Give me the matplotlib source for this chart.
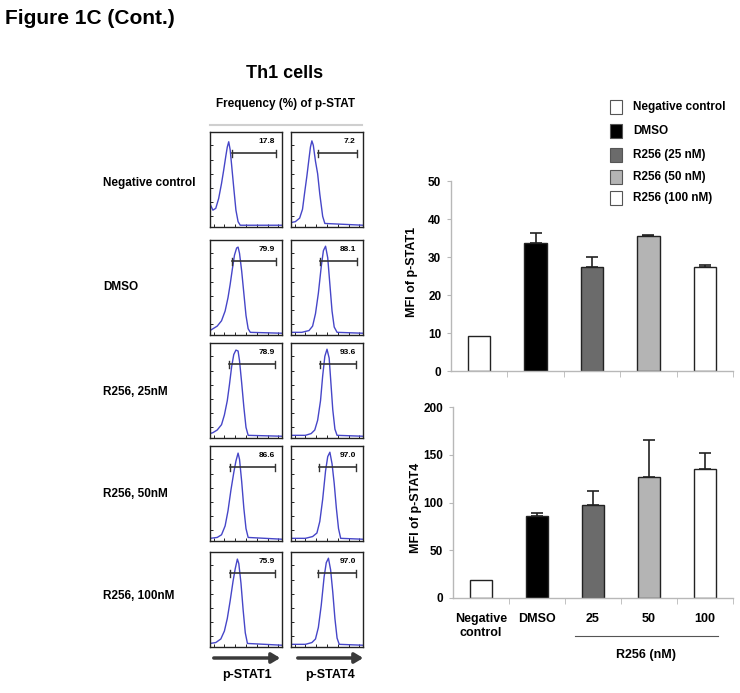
import numpy as np
import matplotlib
matplotlib.use('Agg')
import matplotlib.pyplot as plt

plt.rcParams['font.family'] = ['Liberation Sans Narrow', 'Liberation Sans', 'DejaVu Sans']
plt.rcParams['font.weight'] = 'bold'

W, H = 740, 693

# bar chart data
groups = ['Negative control', 'DMSO', 'R256 (25 nM)', 'R256 (50 nM)', 'R256 (100 nM)']
bar_colors = ['white', 'black', '#6b6b6b', '#b4b4b4', 'white']
stat1_mfi = [9.2, 33.8, 27.4, 35.6, 27.3]
stat1_err = [0.0, 2.4, 2.5, 0.3, 0.7]
stat4_mfi = [18.5, 86, 97, 127, 135]
stat4_err = [0.0, 2.5, 15, 38, 17]
xlabels4 = ['Negative\ncontrol', 'DMSO', '25', '50', '100']

# flow histograms (x, y, relative 0-1)
row_labels = ['Negative control', 'DMSO', 'R256, 25nM', 'R256, 50nM', 'R256, 100nM']
row_label_y = [183, 287, 392, 494, 596]
freq_stat1 = ['17.8', '79.9', '78.9', '86.6', '75.9']
freq_stat4 = ['7.2', '88.1', '93.6', '97.0', '97.0']
gate_stat1 = [(0.30, 0.92), (0.31, 0.91), (0.27, 0.90), (0.28, 0.90), (0.28, 0.90)]
gate_stat4 = [(0.38, 0.91), (0.40, 0.91), (0.40, 0.90), (0.39, 0.90), (0.37, 0.90)]
hist_stat1 = [
    ([0, 0.04, 0.08, 0.12, 0.16, 0.19, 0.22, 0.24, 0.26, 0.28, 0.30, 0.33, 0.36, 0.39, 0.42, 1.0],
     [0.24, 0.17, 0.19, 0.3, 0.47, 0.62, 0.78, 0.88, 0.94, 0.85, 0.68, 0.42, 0.17, 0.04, 0.0, 0.0]),
    ([0, 0.04, 0.1, 0.16, 0.21, 0.25, 0.28, 0.31, 0.34, 0.37, 0.39, 0.41, 0.44, 0.47, 0.5, 0.53, 0.56, 1.0],
     [0.03, 0.05, 0.08, 0.14, 0.25, 0.4, 0.55, 0.72, 0.88, 0.96, 0.97, 0.9, 0.7, 0.45, 0.2, 0.05, 0.01, 0.0]),
    ([0, 0.04, 0.1, 0.16, 0.2, 0.24, 0.27, 0.3, 0.33, 0.36, 0.39, 0.41, 0.44, 0.47, 0.5, 0.53, 1.0],
     [0.03, 0.04, 0.07, 0.13, 0.24, 0.4, 0.58, 0.78, 0.92, 0.97, 0.96, 0.85, 0.6, 0.33, 0.1, 0.01, 0.0]),
    ([0, 0.1, 0.16, 0.21, 0.25, 0.29, 0.33, 0.36, 0.39, 0.41, 0.44, 0.47, 0.5, 0.53, 1.0],
     [0.01, 0.02, 0.05, 0.15, 0.32, 0.55, 0.75, 0.88, 0.97, 0.9, 0.65, 0.35, 0.12, 0.02, 0.0]),
    ([0, 0.08, 0.15, 0.2, 0.24, 0.28, 0.32, 0.35, 0.38, 0.40, 0.43, 0.46, 0.49, 0.52, 1.0],
     [0.02, 0.03, 0.07, 0.16, 0.3, 0.5, 0.72, 0.86, 0.97, 0.92, 0.7, 0.4, 0.14, 0.02, 0.0]),
]
hist_stat4 = [
    ([0, 0.06, 0.12, 0.16, 0.19, 0.22, 0.25, 0.27, 0.29, 0.31, 0.34, 0.37, 0.40, 0.44, 0.47, 1.0],
     [0.03, 0.04, 0.08, 0.18, 0.37, 0.55, 0.75, 0.88, 0.95, 0.9, 0.72, 0.58, 0.35, 0.1, 0.02, 0.0]),
    ([0, 0.15, 0.25, 0.3, 0.34, 0.38, 0.42, 0.45, 0.48, 0.51, 0.54, 0.57, 0.6, 0.64, 1.0],
     [0.01, 0.01, 0.03, 0.08, 0.22, 0.45, 0.75, 0.93, 0.98, 0.85, 0.55, 0.25, 0.07, 0.01, 0.0]),
    ([0, 0.2, 0.28, 0.33, 0.37, 0.41, 0.44, 0.47, 0.5, 0.53, 0.55, 0.58, 0.61, 0.64, 1.0],
     [0.01, 0.01, 0.03, 0.07, 0.18, 0.4, 0.68, 0.9, 0.98, 0.88, 0.65, 0.3, 0.08, 0.01, 0.0]),
    ([0, 0.2, 0.3, 0.36, 0.4, 0.44, 0.48, 0.51, 0.54, 0.57, 0.6, 0.63, 0.66, 0.69, 1.0],
     [0.01, 0.01, 0.03, 0.07, 0.2, 0.45, 0.77, 0.93, 0.98, 0.85, 0.63, 0.35, 0.12, 0.01, 0.0]),
    ([0, 0.2, 0.29, 0.34, 0.38, 0.42, 0.46, 0.49, 0.52, 0.55, 0.58, 0.61, 0.64, 0.67, 1.0],
     [0.01, 0.01, 0.03, 0.07, 0.2, 0.45, 0.77, 0.93, 0.98, 0.85, 0.6, 0.3, 0.08, 0.01, 0.0]),
]


def px(x0, y0, x1, y1):
    return [x0 / W, 1 - y1 / H, (x1 - x0) / W, (y1 - y0) / H]


fig = plt.figure(figsize=(W / 100, H / 100), dpi=100)

fig.text(5 / W, 1 - 18 / H, 'Figure 1C (Cont.)', fontsize=15, fontweight='bold', va='center')
fig.text(285 / W, 1 - 74 / H, 'Th1 cells', fontsize=13, fontweight='bold', ha='center', va='center')
fig.text(286 / W, 1 - 104 / H, 'Frequency (%) of p-STAT', fontsize=8.5, fontweight='bold', ha='center', va='center')
fig.add_artist(plt.Line2D([210 / W, 362 / W], [1 - 125 / H, 1 - 125 / H], color='#cfcfcf', lw=1.5))

row_tops = [132, 240, 343, 446, 552]
row_h = 95
for i in range(5):
    y0 = row_tops[i]
    fig.text(103 / W, 1 - row_label_y[i] / H, row_labels[i], fontsize=8.5, fontweight='bold', va='center')
    for col, (xa, xb, hists, freqs, gates) in enumerate([(210, 282, hist_stat1, freq_stat1, gate_stat1),
                                                         (291, 363, hist_stat4, freq_stat4, gate_stat4)]):
        ax = fig.add_axes(px(xa, y0, xb, y0 + row_h))
        hx, hy = hists[i]
        ax.plot(hx, hy, color='#4646c8', lw=1.0)
        ax.set_xlim(0, 1)
        ax.set_ylim(-0.02, 1.05)
        g0, g1 = gates[i]
        gy = 0.81
        ax.plot([g0, g1], [gy, gy], color='#333333', lw=1.2)
        ax.plot([g0, g0], [gy - 0.04, gy + 0.04], color='#333333', lw=1.0)
        ax.plot([g1, g1], [gy - 0.04, gy + 0.04], color='#333333', lw=1.0)
        ax.text(0.9, 0.9, freqs[i], fontsize=6, fontweight='bold', ha='right', va='bottom')
        ax.set_xticks(np.linspace(0.05, 0.95, 7))
        ax.set_yticks(np.linspace(0.1, 0.9, 6))
        ax.tick_params(direction='in', length=2, width=0.6, labelbottom=False, labelleft=False)
        for s in ax.spines.values():
            s.set_color('#222222')
            s.set_linewidth(1.0)

# arrows under the histograms
for xa, xb, lab in [(211, 283, 'p-STAT1'), (295, 366, 'p-STAT4')]:
    fig.add_artist(matplotlib.patches.FancyArrowPatch((xa / W, 1 - 658 / H), (xb / W, 1 - 658 / H),
                                                      arrowstyle='-|>,head_length=5,head_width=3',
                                                      color='#3a3a3a', lw=2.5, mutation_scale=1))
    fig.text((xa + xb) / 2 / W, 1 - 675 / H, lab, fontsize=9, fontweight='bold', ha='center', va='center')

# legend
leg_y = [107, 131, 155, 177, 198]
leg_face = ['white', 'black', '#6b6b6b', '#b4b4b4', 'white']
for yy, fc, name in zip(leg_y, leg_face, groups):
    fig.add_artist(matplotlib.patches.Rectangle((610 / W, 1 - (yy + 7) / H), 12 / W, 14 / H,
                                                facecolor=fc, edgecolor='#555555', lw=0.8))
    fig.text(633 / W, 1 - yy / H, name, fontsize=8.5, fontweight='bold', va='center')


def style_bar_axis(ax):
    for s in ['top', 'right']:
        ax.spines[s].set_visible(False)
    for s in ['left', 'bottom']:
        ax.spines[s].set_color('#b8b8b8')
        ax.spines[s].set_linewidth(1.0)
    ax.set_xlim(-0.5, 4.5)
    ax.set_xticks([0.5, 1.5, 2.5, 3.5, 4.5], minor=True)
    ax.tick_params(axis='x', which='minor', length=4, color='#b8b8b8')
    ax.tick_params(axis='y', length=3, color='#b8b8b8', labelsize=8.5, pad=4)
    ax.set_xticks(range(5))
    for t in ax.get_yticklabels():
        t.set_fontweight('bold')


xpos = np.arange(5)
ax1 = fig.add_axes(px(451, 181, 733, 371))
ax1.bar(xpos, stat1_mfi, width=0.4, color=bar_colors, edgecolor='#222222', lw=1.0)
ax1.errorbar(xpos[1:], stat1_mfi[1:], yerr=[[0] * 4, stat1_err[1:]], fmt='none', ecolor='#222222',
             elinewidth=1.2, capsize=4, capthick=1.2)
ax1.set_ylim(0, 50)
ax1.set_yticks([0, 10, 20, 30, 40, 50])
style_bar_axis(ax1)
ax1.tick_params(axis='x', which='major', length=0, labelbottom=False)
ax1.set_ylabel('MFI of p-STAT1', fontsize=9, fontweight='bold')
ax1.yaxis.set_label_coords(-0.117, 0.52)

ax2 = fig.add_axes(px(453, 407, 733, 598))
ax2.bar(xpos, stat4_mfi, width=0.4, color=bar_colors, edgecolor='#222222', lw=1.0)
ax2.errorbar(xpos[1:], stat4_mfi[1:], yerr=[[0] * 4, stat4_err[1:]], fmt='none', ecolor='#222222',
             elinewidth=1.2, capsize=4, capthick=1.2)
ax2.set_ylim(0, 200)
ax2.set_yticks([0, 50, 100, 150, 200])
style_bar_axis(ax2)
ax2.set_xticklabels(xlabels4, fontsize=9, fontweight='bold')
ax2.tick_params(axis='x', which='major', length=0, pad=11)
ax2.set_ylabel('MFI of p-STAT4', fontsize=9, fontweight='bold')
ax2.yaxis.set_label_coords(-0.111, 0.47)
fig.add_artist(plt.Line2D([575 / W, 718 / W], [1 - 636 / H, 1 - 636 / H], color='#555555', lw=0.8))
fig.text(646 / W, 1 - 655 / H, 'R256 (nM)', fontsize=9, fontweight='bold', ha='center', va='center')

fig.savefig('out.png', dpi=100)
